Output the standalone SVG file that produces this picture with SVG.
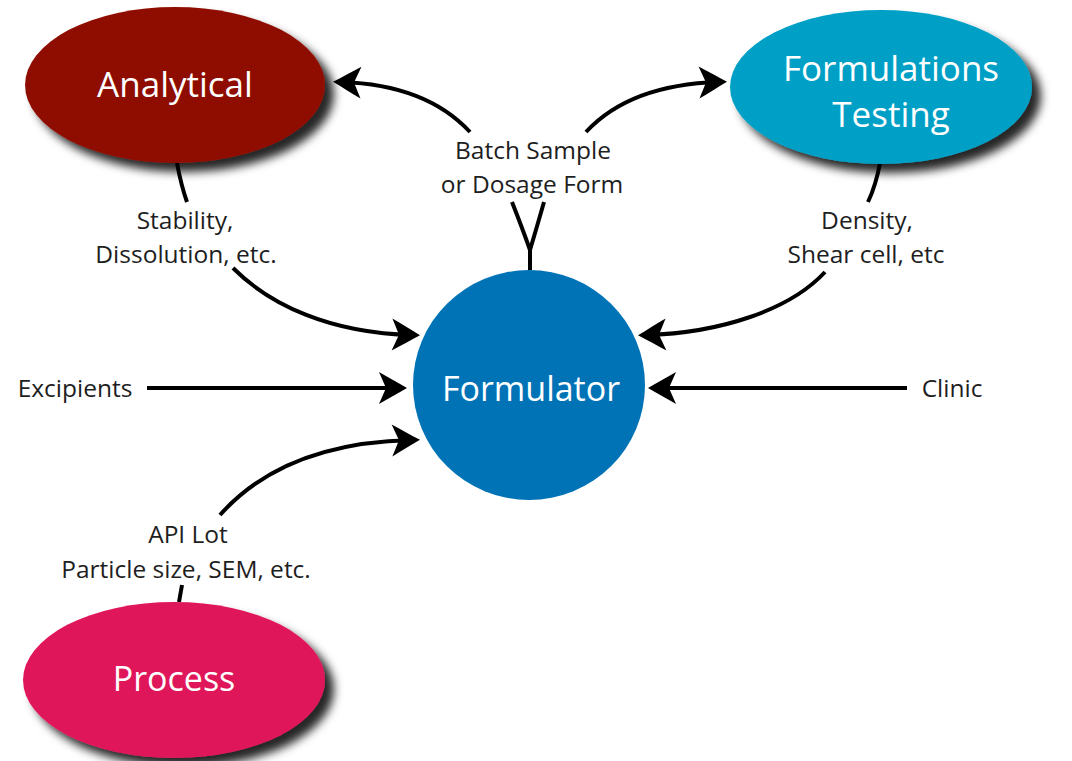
<svg xmlns="http://www.w3.org/2000/svg" width="1072" height="761" viewBox="0 0 1072 761">
<defs>
<style>
.node-text{font-family:"Open Sans","Noto Sans","Liberation Sans",sans-serif;fill:#ffffff;font-size:34px;text-anchor:middle}
.label{font-family:"Open Sans","Noto Sans","Liberation Sans",sans-serif;fill:#1e1e1e;font-size:24.5px;text-anchor:middle}
.conn{fill:none;stroke:#000;stroke-width:4;stroke-linecap:butt}
.stub{fill:none;stroke:#000;stroke-width:4}
</style>
<filter id="shadow" x="-20%" y="-20%" width="150%" height="160%">
<feDropShadow dx="9" dy="9" stdDeviation="5" flood-color="#000" flood-opacity="0.85"/>
</filter>
<marker id="arrow" viewBox="-30 -18 32 36" markerWidth="32" markerHeight="36" refX="-8" refY="0" orient="auto" markerUnits="userSpaceOnUse">
<path d="M0,0 C-9,-5 -19,-11 -28,-16 L-21,0 L-28,16 C-19,11 -9,5 0,0 Z" fill="#000"/>
</marker>
</defs>
<rect width="1072" height="761" fill="#ffffff"/>

<g id="connectors">
<path class="stub" d="M177,163 Q181,185 187,202"/>
<path class="conn" d="M233,268 C270,305 330,333 412,335" marker-end="url(#arrow)"/>
<path class="stub" d="M880,163 Q876,185 868,202"/>
<path class="conn" d="M825,272 C790,310 720,333 646,335" marker-end="url(#arrow)"/>
<path class="conn" d="M147,388 L399,388" marker-end="url(#arrow)"/>
<path class="conn" d="M907,388 L656,388" marker-end="url(#arrow)"/>
<path class="stub" d="M182,585 L179,602"/>
<path class="conn" d="M220,515 C260,470 320,442 412,440" marker-end="url(#arrow)"/>
<path class="conn" d="M470,132 C445,105 405,84 341,82" marker-end="url(#arrow)"/>
<path class="conn" d="M586,132 C611,105 651,84 719,82" marker-end="url(#arrow)"/>
<path class="stub" d="M512,202 Q523,230 530,250 L530,270 M544,202 Q536,230 530,250"/>
</g>

<g id="analytical">
<ellipse cx="175" cy="85" rx="150" ry="78" fill="#8f1000" filter="url(#shadow)"/>
<text class="node-text" x="175" y="97" style="font-size:35px">Analytical</text>
</g>

<g id="formulations-testing">
<ellipse cx="881" cy="87" rx="151" ry="77" fill="#00a0c6" filter="url(#shadow)"/>
<text class="node-text" x="891" y="81" style="font-size:35px">Formulations</text>
<text class="node-text" x="891" y="127" style="font-size:35px">Testing</text>
</g>

<g id="formulator">
<ellipse cx="529" cy="385" rx="116" ry="115" fill="#0073b7"/>
<text class="node-text" x="531" y="401">Formulator</text>
</g>

<g id="process">
<ellipse cx="174" cy="680" rx="151" ry="78" fill="#e0185a" filter="url(#shadow)"/>
<text class="node-text" x="174" y="691">Process</text>
</g>

<g id="labels">
<text class="label" x="185" y="229">Stability,</text>
<text class="label" x="186" y="263">Dissolution, etc.</text>
<text class="label" x="533" y="159">Batch Sample</text>
<text class="label" x="532" y="193">or Dosage Form</text>
<text class="label" x="867" y="229">Density,</text>
<text class="label" x="866" y="263">Shear cell, etc</text>
<text class="label" x="75" y="397">Excipients</text>
<text class="label" x="952" y="397">Clinic</text>
<text class="label" x="188" y="543">API Lot</text>
<text class="label" x="186" y="578">Particle size, SEM, etc.</text>
</g>
</svg>
